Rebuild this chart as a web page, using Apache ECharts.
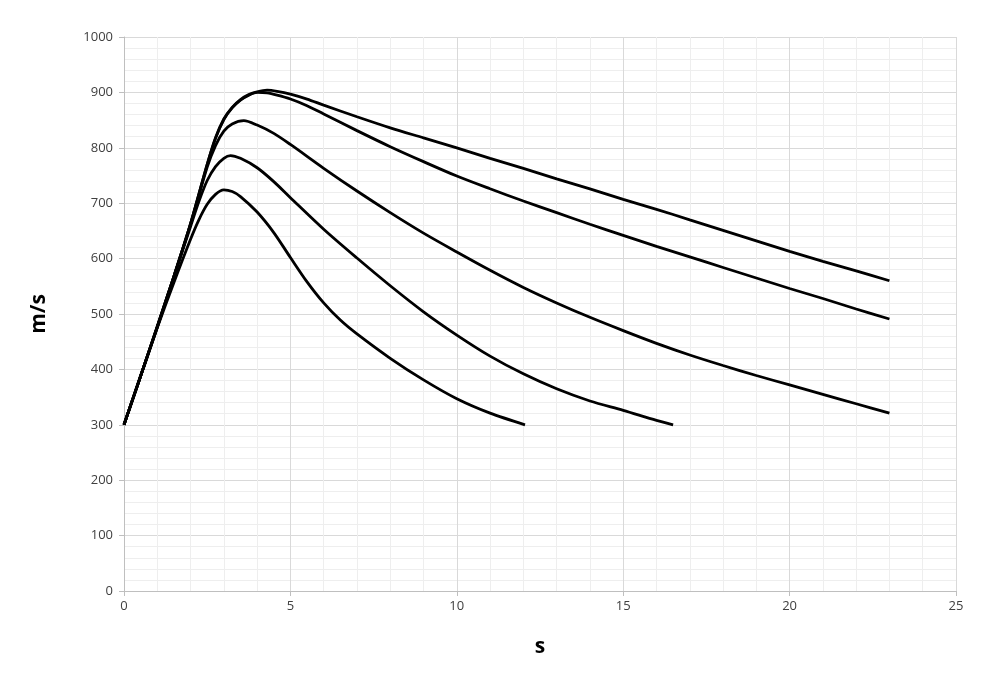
<!DOCTYPE html>
<html>
<head>
<meta charset="utf-8">
<script src="https://cdn.jsdelivr.net/npm/echarts@6/dist/echarts.min.js"></script>
<style>
html,body{margin:0;padding:0;background:#fff;}
#chart{width:1000px;height:678px;}
</style>
</head>
<body>
<div id="chart"></div>
<script>
// Curve 1 (top, ends at 23 s)
const curve1X = [0,0.5,1,1.5,2,2.5,2.75,3,3.25,3.5,3.75,4,4.3,4.6,5,5.5,6,7,8,9,10,11,12,13,14,15,16,17,18,19,20,21,22,23];
const curve1Y = [300,388,477,568,663,770,818,852,873,887,896,901,904,902,897,888,877,856,836,818,800,781,763,744,726,707,689,670,651,632,613,595,578,560];
// Curve 2
const curve2X = [0,0.5,1,1.5,2,2.5,2.75,3,3.25,3.5,3.75,4,4.3,4.6,5,5.5,6,7,8,9,10,11,12,13,14,15,16,17,18,19,20,21,22,23];
const curve2Y = [300,388,477,568,663,770,817,851,872,886,895,900,899,895,888,876,861,831,802,775,749,726,704,683,662,642,622,603,584,565,546,528,509,491];
// Curve 3
const curve3X = [0,0.5,1,1.5,2,2.5,2.75,3,3.25,3.6,4,4.5,5,6,7,8,9,10,11,12,13,14,15,16,17,18,19,20,21,22,23];
const curve3Y = [300,388,477,568,662,765,804,830,843,849,841,826,806,763,722,683,646,612,579,548,520,494,470,447,426,407,389,372,355,338,321];
// Curve 4 (ends at 16.5 s)
const curve4X = [0,0.5,1,1.5,2,2.25,2.5,2.75,3,3.2,3.5,4,4.5,5,6,7,8,9,10,11,12,13,14,15,16,16.5];
const curve4Y = [300,388,477,567,658,703,741,766,781,786,781,764,739,710,653,601,551,504,462,424,392,365,343,326,308,300];
// Curve 5 (ends at 12.05 s)
const curve5X = [0,0.5,1,1.5,2,2.25,2.5,2.75,3,3.25,3.5,4,4.5,5,5.5,6,6.5,7,8,9,10,11,12.05];
const curve5Y = [300,388,475,557,635,670,698,716,724,721,712,684,647,602,558,520,489,464,420,381,347,321,300];

const xTicks = [0,5,10,15,20,25];
const yTicks = [0,100,200,300,400,500,600,700,800,900,1000];

function pairs(xs, ys){ return xs.map((x,i)=>[x, ys[i]]); }

const chart = echarts.init(document.getElementById('chart'), null, {renderer:'canvas'});
const fam = '"Open Sans", "Liberation Sans", sans-serif';
const lineSeries = [
  pairs(curve1X, curve1Y),
  pairs(curve2X, curve2Y),
  pairs(curve3X, curve3Y),
  pairs(curve4X, curve4Y),
  pairs(curve5X, curve5Y)
].map(d => ({
  type:'line', data:d, showSymbol:false, symbol:'none', smooth:0.3,
  lineStyle:{color:'#000', width:2.8}, silent:true
}));

chart.setOption({
  animation:false,
  backgroundColor:'#fff',
  grid:{left:124, right:44, top:37, bottom:87, containLabel:false},
  xAxis:{
    type:'value', min:xTicks[0], max:xTicks[xTicks.length-1], interval:5,
    name:'s', nameLocation:'middle', nameGap:46,
    nameTextStyle:{fontFamily:fam, fontSize:21, fontWeight:'bold', color:'#000'},
    axisLine:{show:true, lineStyle:{color:'#bfbfbf', width:1}},
    axisTick:{show:true, length:5, lineStyle:{color:'#bfbfbf'}},
    minorTick:{show:false, splitNumber:5},
    axisLabel:{fontFamily:fam, fontSize:13, color:'#404040', margin:9, formatter:v=>String(v)},
    splitLine:{show:true, lineStyle:{color:'#d9d9d9', width:1}},
    minorSplitLine:{show:true, lineStyle:{color:'#eeeeee', width:1}}
  },
  yAxis:{
    type:'value', min:yTicks[0], max:yTicks[yTicks.length-1], interval:100,
    name:'m/s', nameLocation:'middle', nameGap:74, nameRotate:90,
    nameTextStyle:{fontFamily:fam, fontSize:21, fontWeight:'bold', color:'#000'},
    axisLine:{show:true, lineStyle:{color:'#bfbfbf', width:1}},
    axisTick:{show:true, length:5, lineStyle:{color:'#bfbfbf'}},
    minorTick:{show:false, splitNumber:5},
    axisLabel:{fontFamily:fam, fontSize:13, color:'#404040', margin:11, formatter:v=>String(v)},
    splitLine:{show:true, lineStyle:{color:'#d9d9d9', width:1}},
    minorSplitLine:{show:true, lineStyle:{color:'#eeeeee', width:1}}
  },
  series: lineSeries
});
</script>
</body>
</html>
